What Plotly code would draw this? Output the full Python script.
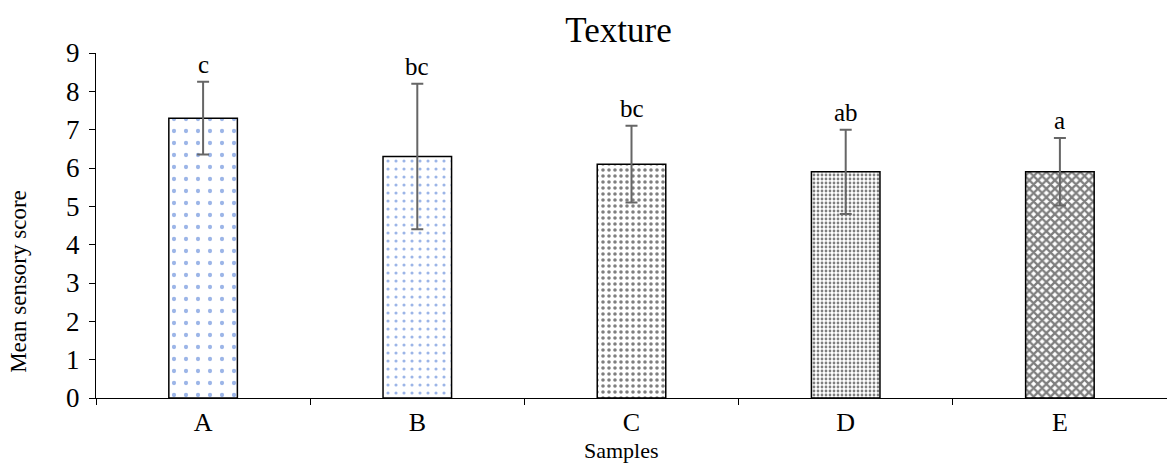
import plotly.graph_objects as go

samples = ["A", "B", "C", "D", "E"]
means = [7.3, 6.3, 6.1, 5.9, 5.9]
sds = [0.95, 1.9, 1.0, 1.1, 0.88]
letters = ["c", "bc", "bc", "ab", "a"]

shapes = [".", ".", ".", ".", "x"]
fg = ["#3A6BD0", "#3A6BD0", "black", "black", "black"]
sizes = [12, 8, 6, 4, 6]
solid = [0.1, 0.12, 0.28, 0.38, 0.62]

FONT = "Liberation Serif, Times New Roman, serif"

fig = go.Figure()
fig.add_trace(go.Bar(
    x=samples, y=means,
    width=0.32,
    marker=dict(
        color="white",
        line=dict(color="black", width=1.5),
        pattern=dict(shape=shapes, fgcolor=fg, bgcolor="white", size=sizes, solidity=solid),
    ),
    error_y=dict(type="data", array=sds, visible=True, color="#666666", thickness=2, width=6),
))

for s, m, sd, l in zip(samples, means, sds, letters):
    fig.add_annotation(x=s, y=m + sd, text=l, showarrow=False, yanchor="bottom", yshift=2,
                       font=dict(family=FONT, size=25, color="black"))

# axis titles as annotations for exact placement
fig.add_annotation(text="Samples", xref="paper", yref="paper", x=0.491, y=-0.153,
                   xanchor="center", yanchor="middle", showarrow=False, borderpad=0,
                   font=dict(family=FONT, size=22, color="black"))
fig.add_annotation(text="Mean sensory score", xref="paper", yref="paper", x=-0.073, y=0.339,
                   xanchor="center", yanchor="middle", textangle=-90, showarrow=False,
                   font=dict(family=FONT, size=23, color="black"))

fig.update_layout(
    width=1167, height=463,
    margin=dict(l=96, r=0, t=53, b=65),
    paper_bgcolor="white", plot_bgcolor="white",
    showlegend=False,
    font=dict(family=FONT, size=26, color="black"),
    title=dict(text="Texture", x=0.53, xanchor="center", y=0.935, yanchor="middle",
               font=dict(family=FONT, size=35, color="black")),
)
fig.update_xaxes(
    showline=True, linecolor="black", linewidth=1,
    ticks="outside", tickson="boundaries", ticklen=6, tickcolor="black",
    tickfont=dict(size=26), ticklabelstandoff=1,
    showgrid=False,
)
fig.update_yaxes(
    range=[0, 9], dtick=1,
    showline=True, linecolor="black", linewidth=1,
    ticks="outside", ticklen=6, tickcolor="black",
    tickfont=dict(size=27), ticklabelstandoff=4,
    showgrid=False, zeroline=False,
)

fig.write_html("out.html")
